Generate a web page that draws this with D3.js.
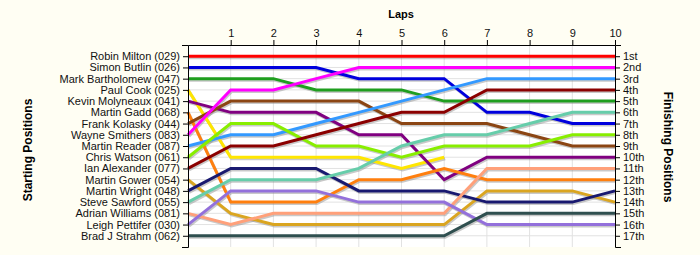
<!DOCTYPE html>
<html>
<head>
<meta charset="utf-8">
<script src="https://cdn.jsdelivr.net/npm/d3@7"></script>
<style>
  body { margin: 0; background: #fffef3; }
  svg text { font-family: Arial, "Liberation Sans", sans-serif; }
</style>
</head>
<body>
<div id="chart"></div>
<script>
// starting grid order (label order on the left axis)
const drivers = [
  "Robin Milton (029)", "Simon Butlin (026)", "Mark Bartholomew (047)", "Paul Cook (025)",
  "Kevin Molyneaux (041)", "Martin Gadd (068)", "Frank Kolasky (044)", "Wayne Smithers (083)",
  "Martin Reader (087)", "Chris Watson (061)", "Ian Alexander (077)", "Martin Gower (054)",
  "Martin Wright (048)", "Steve Sawford (055)", "Adrian Williams (081)", "Leigh Pettifer (030)",
  "Brad J Strahm (062)"
];

const finishLabels = ["1st","2nd","3rd","4th","5th","6th","7th","8th","9th","10th",
  "11th","12th","13th","14th","15th","16th","17th"];

const laps = [0,1,2,3,4,5,6,7,8,9,10];

// position of each driver after every lap (lap 0 = grid), same order as drivers
const positions = [
  [1,1,1,1,1,1,1,1,1,1,1],
  [2,2,2,2,3,3,3,6,6,7,7],
  [3,3,3,4,4,4,5,5,5,5,5],
  [4,10,10,10,10,11,10],
  [5,6,6,6,8,8,12,10,10,10,10],
  [6,14,14,14,12,12,11,12,12,12,12],
  [7,5,5,5,5,7,7,7,8,9,9],
  [8,4,4,3,2,2,2,2,2,2,2],
  [9,8,8,7,6,5,4,3,3,3,3],
  [10,7,7,9,9,10,9,9,9,8,8],
  [11,9,9,8,7,6,6,4,4,4,4],
  [12,15,16,16,16,16,16,13,13,13,14],
  [13,11,11,11,13,13,13,14,14,14,13],
  [14,12,12,12,11,9,8,8,7,6,6],
  [15,16,15,15,15,15,15,11,11,11,11],
  [16,13,13,13,14,14,14,16,16,16,16],
  [17,17,17,17,17,17,17,15,15,15,15]
];

const colors = [
  "#ff0000", "#0000dd", "#1f9e1f", "#ffe600", "#800080", "#ff7f0e", "#8b4513", "#ff00ff",
  "#3399ff", "#88ee00", "#8b0000", "#daa520", "#191970", "#66cdaa", "#ffa07a", "#9370db",
  "#2f4f4f"
];

const W = 700, H = 255;
const svg = d3.select("#chart").append("svg")
    .attr("width", W)
    .attr("height", H);

const x = d3.scaleLinear().domain([0, 10]).range([188, 615]);
const y = d3.scaleLinear().domain([0, 18]).range([45, 247]);

// white plot area
svg.append("rect")
    .attr("x", x(0)).attr("y", y(0))
    .attr("width", x(10) - x(0)).attr("height", y(18) - y(0))
    .attr("fill", "#fff");

// grid lines
svg.append("g").selectAll("line")
    .data(d3.range(1, 18))
    .enter().append("line")
    .attr("x1", x(0)).attr("x2", x(10))
    .attr("y1", d => y(d)).attr("y2", d => y(d))
    .attr("stroke", "#e2e2e2");
svg.append("g").selectAll("line")
    .data(laps.slice(1, 10))
    .enter().append("line")
    .attr("x1", d => x(d)).attr("x2", d => x(d))
    .attr("y1", y(0)).attr("y2", y(18))
    .attr("stroke", "#e2e2e2");

const line = d3.line()
    .x((d, i) => x(laps[i]))
    .y(d => y(d));

// shadows first, then coloured lines
svg.append("g")
    .attr("transform", "translate(1,1.5)")
    .selectAll("path")
    .data(positions)
    .enter().append("path")
    .attr("d", line)
    .attr("fill", "none")
    .attr("stroke", "#888")
    .attr("stroke-opacity", 0.45)
    .attr("stroke-width", 3);

svg.append("g")
    .selectAll("path")
    .data(positions)
    .enter().append("path")
    .attr("d", line)
    .attr("fill", "none")
    .attr("stroke", (d, i) => colors[i])
    .attr("stroke-width", 3);

// axes
const leftAxis = svg.append("g")
    .attr("transform", "translate(" + x(0) + ",0)")
    .call(d3.axisLeft(y)
        .tickValues(d3.range(1, 18))
        .tickFormat(d => drivers[d - 1])
        .tickSize(5).tickSizeOuter(6));

const rightAxis = svg.append("g")
    .attr("transform", "translate(" + x(10) + ",0)")
    .call(d3.axisRight(y)
        .tickValues(d3.range(1, 18))
        .tickFormat(d => finishLabels[d - 1])
        .tickSize(5).tickSizeOuter(6));

const topAxis = svg.append("g")
    .attr("transform", "translate(0," + y(0) + ")")
    .call(d3.axisTop(x)
        .tickValues(laps.slice(1))
        .tickSize(5).tickSizeOuter(0));

[leftAxis, rightAxis, topAxis].forEach(function(g) {
    g.selectAll("text")
        .attr("font-family", "Arial, 'Liberation Sans', sans-serif")
        .attr("font-size", 11)
        .attr("fill", "#111");
    g.selectAll("line, path").attr("stroke", "#000");
});

// titles
svg.append("text")
    .attr("x", 401).attr("y", 18)
    .attr("text-anchor", "middle")
    .attr("font-size", 11).attr("font-weight", "bold")
    .text("Laps");

svg.append("text")
    .attr("transform", "translate(32,150) rotate(-90)")
    .attr("text-anchor", "middle")
    .attr("font-size", 12).attr("font-weight", "bold")
    .text("Starting Positions");

svg.append("text")
    .attr("transform", "translate(664,147) rotate(90)")
    .attr("text-anchor", "middle")
    .attr("font-size", 12).attr("font-weight", "bold")
    .text("Finishing Positions");
</script>
</body>
</html>
